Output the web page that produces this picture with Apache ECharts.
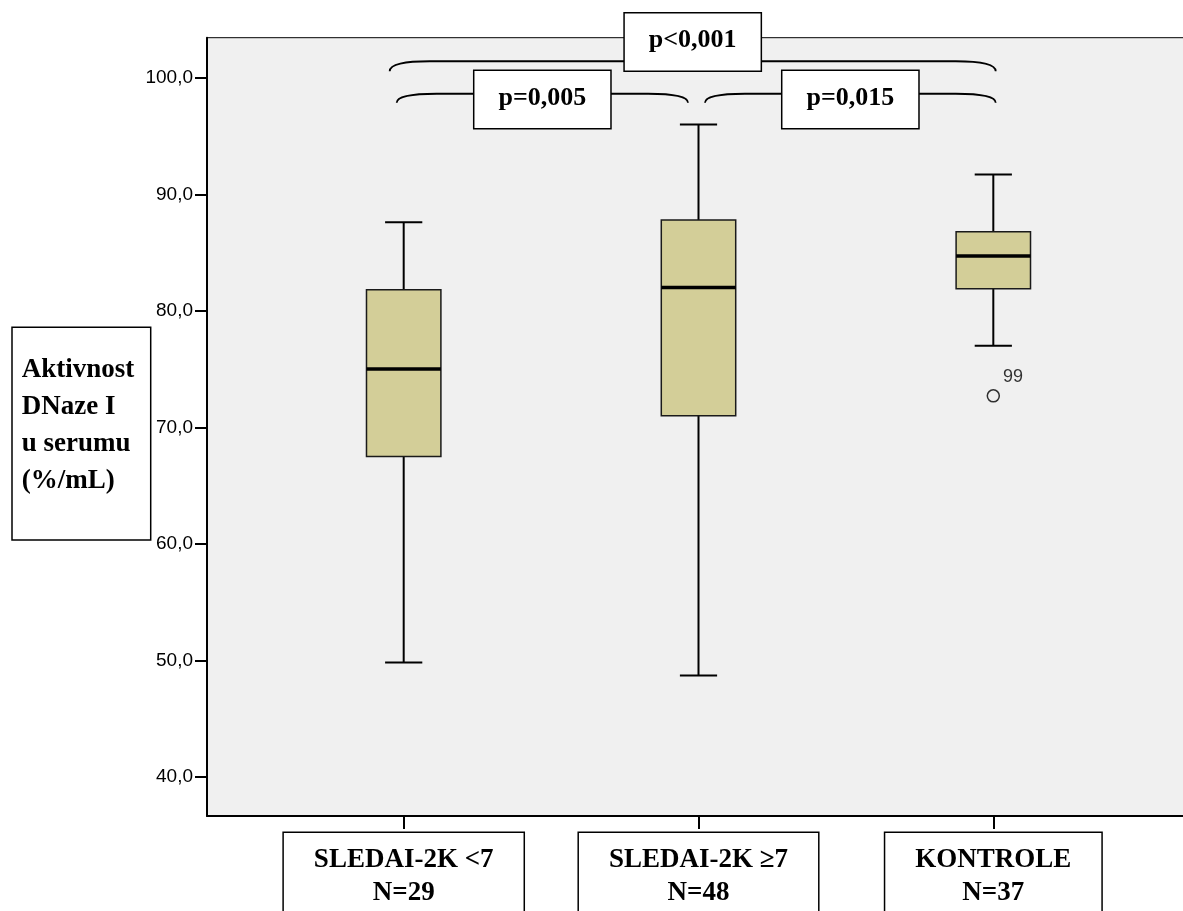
<!DOCTYPE html>
<html>
<head>
<meta charset="utf-8">
<title>Aktivnost DNaze I u serumu</title>
<script src="https://cdn.jsdelivr.net/npm/echarts@6/dist/echarts.min.js"></script>
<style>
  html, body { margin: 0; padding: 0; background: #fff; }
  #chart { width: 1183px; height: 911px; }
</style>
</head>
<body>
<div id="chart"></div>
<script>
// Groups and their sizes
const categories = ['SLEDAI-2K <7', 'SLEDAI-2K \u22657', 'KONTROLE'];
const groupN = [29, 48, 37];

// Five-number summaries per group (% / mL)
const whiskerLow  = [49.8, 48.7, 77.0];
const quartile1   = [67.5, 71.0, 81.9];
const medians     = [75.0, 82.0, 84.7];
const quartile3   = [81.8, 87.8, 86.8];
const whiskerHigh = [87.6, 96.0, 91.7];

// Outliers: group number, value, case id
const outlierGroup = [3];
const outlierValue = [72.7];
const outlierCase  = ['99'];

// Y-axis ticks
const yTickValues = [40, 50, 60, 70, 80, 90, 100];

// Pairwise comparisons between groups
const comparisonFrom = [1, 1, 2];
const comparisonTo   = [3, 2, 3];
const pValues        = ['p<0,001', 'p=0,005', 'p=0,015'];

// Y-axis title lines
const yAxisTitle = ['Aktivnost', 'DNaze I', 'u serumu', '(%/mL)'];

const SERIF = '"Liberation Serif", "Times New Roman", serif';
const SANS = '"Liberation Sans", Arial, sans-serif';
const BOX_FILL = '#D3CE98';

const chart = echarts.init(document.getElementById('chart'), null, { renderer: 'canvas' });

function renderBox(params, api) {
  const x = api.value(0);
  const pLow = api.coord([x, api.value(1)]);
  const pQ1 = api.coord([x, api.value(2)]);
  const pMed = api.coord([x, api.value(3)]);
  const pQ3 = api.coord([x, api.value(4)]);
  const pHigh = api.coord([x, api.value(5)]);
  const unit = api.size([1, 0])[0];
  const half = unit * 0.1262;
  const cap = half / 2;
  const cx = pMed[0];
  const stroke = { stroke: '#000', lineWidth: 2 };
  return {
    type: 'group',
    children: [
      { type: 'line', shape: { x1: cx, y1: pQ1[1], x2: cx, y2: pLow[1] }, style: stroke },
      { type: 'line', shape: { x1: cx - cap, y1: pLow[1], x2: cx + cap, y2: pLow[1] }, style: stroke },
      { type: 'line', shape: { x1: cx, y1: pQ3[1], x2: cx, y2: pHigh[1] }, style: stroke },
      { type: 'line', shape: { x1: cx - cap, y1: pHigh[1], x2: cx + cap, y2: pHigh[1] }, style: stroke },
      { type: 'rect', shape: { x: cx - half, y: pQ3[1], width: half * 2, height: pQ1[1] - pQ3[1] },
        style: { fill: BOX_FILL, stroke: '#1a1a1a', lineWidth: 1.5 } },
      { type: 'line', shape: { x1: cx - half, y1: pMed[1], x2: cx + half, y2: pMed[1] },
        style: { stroke: '#000', lineWidth: 3.5 } }
    ]
  };
}

function renderComparison(params, api) {
  const from = api.value(0);
  const to = api.value(1);
  const span = to - from;
  const level = span === 2 ? 101.43 : 98.64;
  const a = api.coord([from, level]);
  const b = api.coord([to, level]);
  const x1 = a[0] + (from === 1 ? (span === 2 ? -14 : -7) : 6.5);
  const x2 = b[0] + (to === 3 ? 2.4 : -10.5);
  const y = a[1];
  const drop = span === 2 ? 10 : 9;
  const path =
    'M' + x1 + ' ' + (y + drop) +
    ' C' + x1 + ' ' + (y + 3) + ' ' + (x1 + 15) + ' ' + y + ' ' + (x1 + 40) + ' ' + y +
    ' L' + (x2 - 40) + ' ' + y +
    ' C' + (x2 - 15) + ' ' + y + ' ' + x2 + ' ' + (y + 3) + ' ' + x2 + ' ' + (y + drop);
  return {
    type: 'group',
    children: [
      { type: 'path', shape: { pathData: path }, style: { fill: null, stroke: '#000', lineWidth: 1.8 } },
      {
        type: 'text',
        x: (x1 + x2) / 2,
        y: span === 2 ? y - 47.7 : y - 22.8,
        style: {
          text: pValues[params.dataIndex],
          fontFamily: SERIF, fontWeight: 'bold', fontSize: 26, lineHeight: 26,
          fill: '#000', align: 'center', verticalAlign: 'top',
          backgroundColor: '#fff', borderColor: '#000', borderWidth: 1.5,
          padding: [14, 24, 17, 24]
        }
      }
    ]
  };
}

const boxData = categories.map((c, i) =>
  [i + 1, whiskerLow[i], quartile1[i], medians[i], quartile3[i], whiskerHigh[i]]);
const outlierData = outlierGroup.map((g, i) => ({ value: [g, outlierValue[i]], name: outlierCase[i] }));
const comparisonData = comparisonFrom.map((f, i) => [f, comparisonTo[i]]);

const option = {
  animation: false,
  backgroundColor: '#fff',
  grid: {
    left: 207, top: 37.7, right: -6, bottom: 95,
    outerBoundsMode: 'none',
    containLabel: false,
    show: true, backgroundColor: '#F0F0F0', borderColor: '#000', borderWidth: 1
  },
  xAxis: {
    type: 'value',
    min: 0.3328, max: 3.6638,
    splitLine: { show: false },
    axisLine: { show: true, onZero: false, lineStyle: { color: '#000', width: 2 } },
    axisTick: { show: true, customValues: [1, 2, 3], length: 13, lineStyle: { color: '#000', width: 2 } },
    axisLabel: {
      customValues: [1, 2, 3],
      formatter: v => {
        const i = Math.round(v) - 1;
        return categories[i] + '\nN=' + groupN[i];
      },
      margin: 17,
      fontFamily: SERIF, fontWeight: 'bold', fontSize: 27, lineHeight: 32.4,
      color: '#000', align: 'center', verticalAlign: 'top',
      backgroundColor: '#fff', borderColor: '#000', borderWidth: 1.5,
      padding: [11, 30, 24, 30]
    }
  },
  yAxis: {
    type: 'value',
    min: 36.63, max: 103.45,
    splitLine: { show: false },
    axisLine: { show: true, onZero: false, lineStyle: { color: '#000', width: 2 } },
    axisTick: { show: true, customValues: yTickValues, length: 12, lineStyle: { color: '#000', width: 2 } },
    axisLabel: {
      customValues: yTickValues,
      formatter: v => v.toFixed(1).replace('.', ','),
      margin: 14,
      fontFamily: SANS, fontSize: 19, color: '#000'
    }
  },
  graphic: [
    {
      type: 'rect', z: 10,
      shape: { x: 12, y: 327.3, width: 138.7, height: 212.7 },
      style: { fill: '#fff', stroke: '#000', lineWidth: 1.5 }
    },
    {
      type: 'text', z: 11, x: 21.7, y: 352,
      style: {
        text: yAxisTitle.join('\n'),
        fontFamily: SERIF, fontWeight: 'bold', fontSize: 27, lineHeight: 36.9,
        fill: '#000', align: 'left', verticalAlign: 'top'
      }
    }
  ],
  series: [
    {
      type: 'custom',
      name: 'box',
      clip: false,
      renderItem: renderBox,
      encode: { x: 0, y: [1, 2, 3, 4, 5] },
      data: boxData
    },
    {
      type: 'scatter',
      name: 'outliers',
      symbol: 'circle',
      symbolSize: 12,
      itemStyle: { color: 'rgba(0,0,0,0)', borderColor: '#000', borderWidth: 1.5 },
      label: {
        show: true, position: 'right', distance: 3, offset: [0, -19],
        formatter: p => p.name,
        fontFamily: SANS, fontSize: 18, color: '#000'
      },
      data: outlierData
    },
    {
      type: 'custom',
      name: 'comparisons',
      clip: false,
      z: 5,
      renderItem: renderComparison,
      encode: { x: [0, 1] },
      data: comparisonData
    }
  ]
};

chart.setOption(option);
</script>
</body>
</html>
